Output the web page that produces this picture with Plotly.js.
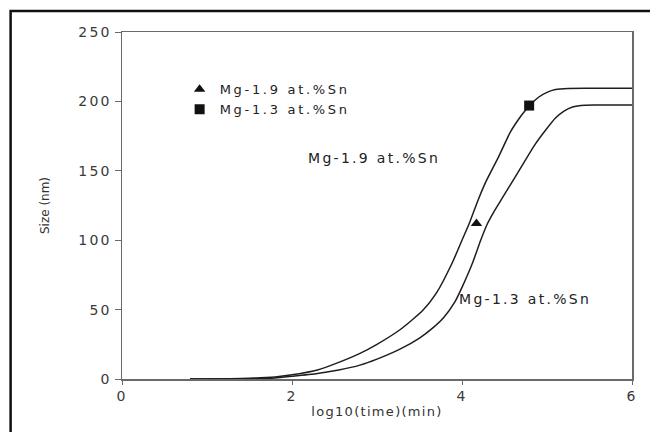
<!DOCTYPE html>
<html>
<head>
<meta charset="utf-8">
<script src="https://cdn.plot.ly/plotly-3.0.1.min.js"></script>
<style>
  html, body { margin: 0; padding: 0; background: #ffffff; }
  #chart { width: 650px; height: 432px; }
  .xtick > text, .ytick > text { letter-spacing: 2.2px; }
  text.legendtext { letter-spacing: 2.7px; }
  text.annotation-text { letter-spacing: 2.3px; }
  text.xtitle { letter-spacing: 1.3px; }
</style>
</head>
<body>
<div id="chart"></div>
<script>
// Curve: Mg-1.9 at.%Sn (upper)
const xHigh = [0.8, 1.4, 1.8, 2.0, 2.3, 2.55, 2.8, 3.0, 3.27, 3.54, 3.7, 3.88, 4.0, 4.085, 4.19, 4.28, 4.43, 4.57, 4.7, 4.78, 4.9, 5.0, 5.1, 5.25, 5.5, 6.0];
const yHigh = [0, 0.3, 1.4, 3, 6.5, 12, 18.5, 25, 35.5, 49.5, 62, 83, 100, 112, 129, 142, 160, 178, 190, 196, 203, 206.5, 208.5, 209.3, 209.4, 209.4];
// Curve: Mg-1.3 at.%Sn (lower)
const xLow = [0.8, 1.4, 1.8, 2.0, 2.3, 2.55, 2.8, 3.0, 3.27, 3.5, 3.65, 3.78, 3.92, 4.0, 4.12, 4.22, 4.3, 4.38, 4.48, 4.68, 4.86, 4.98, 5.1, 5.2, 5.3, 5.45, 5.6, 6.0];
const yLow = [0, 0.2, 0.8, 2, 4, 6.5, 10, 14.3, 21.5, 29.5, 36.5, 44, 56, 66, 83, 100, 112, 121, 131, 151, 169, 179, 188, 193, 196, 197.3, 197.4, 197.4];
// Experimental points
const triX = [4.17], triY = [112];
const sqX = [4.79], sqY = [197];
const legendNames = ["Mg-1.9 at.%Sn", "Mg-1.3 at.%Sn"];
const xTicks = [0, 2, 4, 6];
const yTicks = [0, 50, 100, 150, 200, 250];

const lineStyle = {color: '#1e1e1e', width: 1.5, shape: 'spline', smoothing: 0.6};
const font = "DejaVu Sans, Arial, sans-serif";

const data = [
  {x: xHigh, y: yHigh, mode: 'lines', line: lineStyle, showlegend: false, hoverinfo: 'skip'},
  {x: xLow, y: yLow, mode: 'lines', line: lineStyle, showlegend: false, hoverinfo: 'skip'},
  {x: triX, y: triY, mode: 'markers', name: legendNames[0],
   marker: {symbol: 'triangle-up', size: 10, color: '#111'}},
  {x: sqX, y: sqY, mode: 'markers', name: legendNames[1],
   marker: {symbol: 'square', size: 10, color: '#111'}}
];

const axisCommon = {
  showgrid: false, zeroline: false, showline: true, linecolor: '#6a6a6a', linewidth: 1.5,
  mirror: true, ticks: 'outside', tickcolor: '#6a6a6a', tickwidth: 1,
  tickfont: {family: font, size: 14, color: '#3a3a3a'}
};

const layout = {
  width: 650, height: 432,
  margin: {l: 121.5, r: 18, t: 32, b: 53},
  paper_bgcolor: '#ffffff', plot_bgcolor: '#ffffff',
  font: {family: font, color: '#333'},
  xaxis: Object.assign({}, axisCommon, {
    range: [0, 6], tickvals: xTicks, ticktext: xTicks.map(String), ticklen: 4,
    title: {text: 'log10(time)(min)', font: {family: font, size: 13, color: '#333'}, standoff: 3}
  }),
  yaxis: Object.assign({}, axisCommon, {
    range: [0, 250], tickvals: yTicks, ticktext: yTicks.map(String), ticklen: 6,
    title: {text: 'Size (nm)', font: {family: font, size: 12, color: '#333'}, standoff: 26}
  }),
  showlegend: true,
  legend: {x: 0.113, y: 0.878, xanchor: 'left', yanchor: 'top', bgcolor: 'rgba(0,0,0,0)',
           font: {family: font, size: 13, color: '#222'}, tracegroupgap: 0},
  annotations: [
    {x: 2.16, y: 159, xref: 'x', yref: 'y', text: legendNames[0], showarrow: false,
     xanchor: 'left', font: {family: font, size: 14, color: '#222'}},
    {x: 3.94, y: 58, xref: 'x', yref: 'y', text: legendNames[1], showarrow: false,
     xanchor: 'left', font: {family: font, size: 14, color: '#222'}}
  ],
  shapes: [
    {type: 'rect', xref: 'paper', yref: 'paper',
     x0: (10 - 121.5) / 510.5, x1: 1.2, y0: -0.5, y1: (379 - 11) / 347,
     line: {color: '#111', width: 2.5}, fillcolor: 'rgba(0,0,0,0)', layer: 'above'}
  ]
};

Plotly.newPlot('chart', data, layout, {displayModeBar: false, staticPlot: true});
</script>
</body>
</html>
